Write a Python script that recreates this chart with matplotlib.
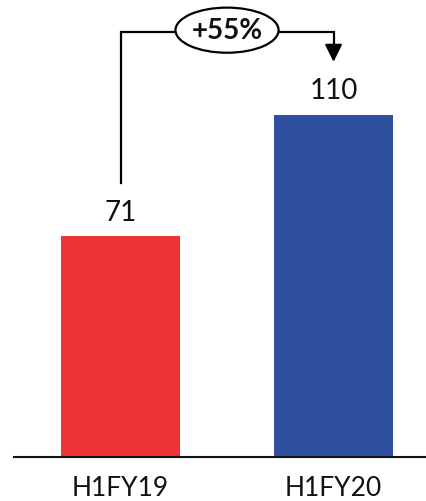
import matplotlib.pyplot as plt
from matplotlib.patches import Ellipse

plt.rcParams['font.family'] = ['Lato', 'DejaVu Sans']

periods = ["H1FY19", "H1FY20"]
values = [71, 110]
growth_label = "+55%"
colors = ["#EE3338", "#2F509E"]

fig = plt.figure(figsize=(4.26, 5.01), dpi=100)
ax = fig.add_axes([14 / 426, 1 - 457 / 501, 1 - 14 / 426, 457 / 501])

x = range(len(values))
ax.bar(x, values, width=0.56, color=colors, zorder=2)
ax.set_xlim(-0.5, 1.434)
ax.set_ylim(0, 146.9)

for xi, v in zip(x, values):
    ax.text(xi, v + 7.5, str(v), ha="center", va="center", fontsize=20, color="#111111")

ax.set_xticks(list(x))
ax.set_xticklabels(periods, fontsize=19, color="#111111")
ax.tick_params(axis="x", length=0, pad=14)
ax.set_yticks([])
for side in ["left", "right", "top"]:
    ax.spines[side].set_visible(False)
ax.spines["bottom"].set_linewidth(1.5)
ax.spines["bottom"].set_color("#111111")

# growth bracket from the first bar label to the second bar
top = 136.7
ell_w, ell_h = 0.484, 14.5
lw = 1.6
ax.plot([0, 0, 0.5 - ell_w / 2], [88.1, top, top], color="black", lw=lw, clip_on=False,
        solid_joinstyle="miter")
ax.plot([0.5 + ell_w / 2, 1, 1], [top, top, 131], color="black", lw=lw, clip_on=False,
        solid_joinstyle="miter")
ax.annotate("", xy=(1, 127), xytext=(1, 132),
            arrowprops=dict(arrowstyle="-|>,head_length=1.05,head_width=0.52",
                            color="black", lw=lw, shrinkA=0, shrinkB=0),
            annotation_clip=False)
ax.add_patch(Ellipse((0.5, top + 0.5), ell_w, ell_h, facecolor="white", edgecolor="black",
                     lw=lw, clip_on=False, zorder=3))
ax.text(0.5, top + 0.3, growth_label, ha="center", va="center", fontsize=20,
        fontweight="bold", color="#111111", zorder=4)

fig.savefig("out.png", dpi=100)
